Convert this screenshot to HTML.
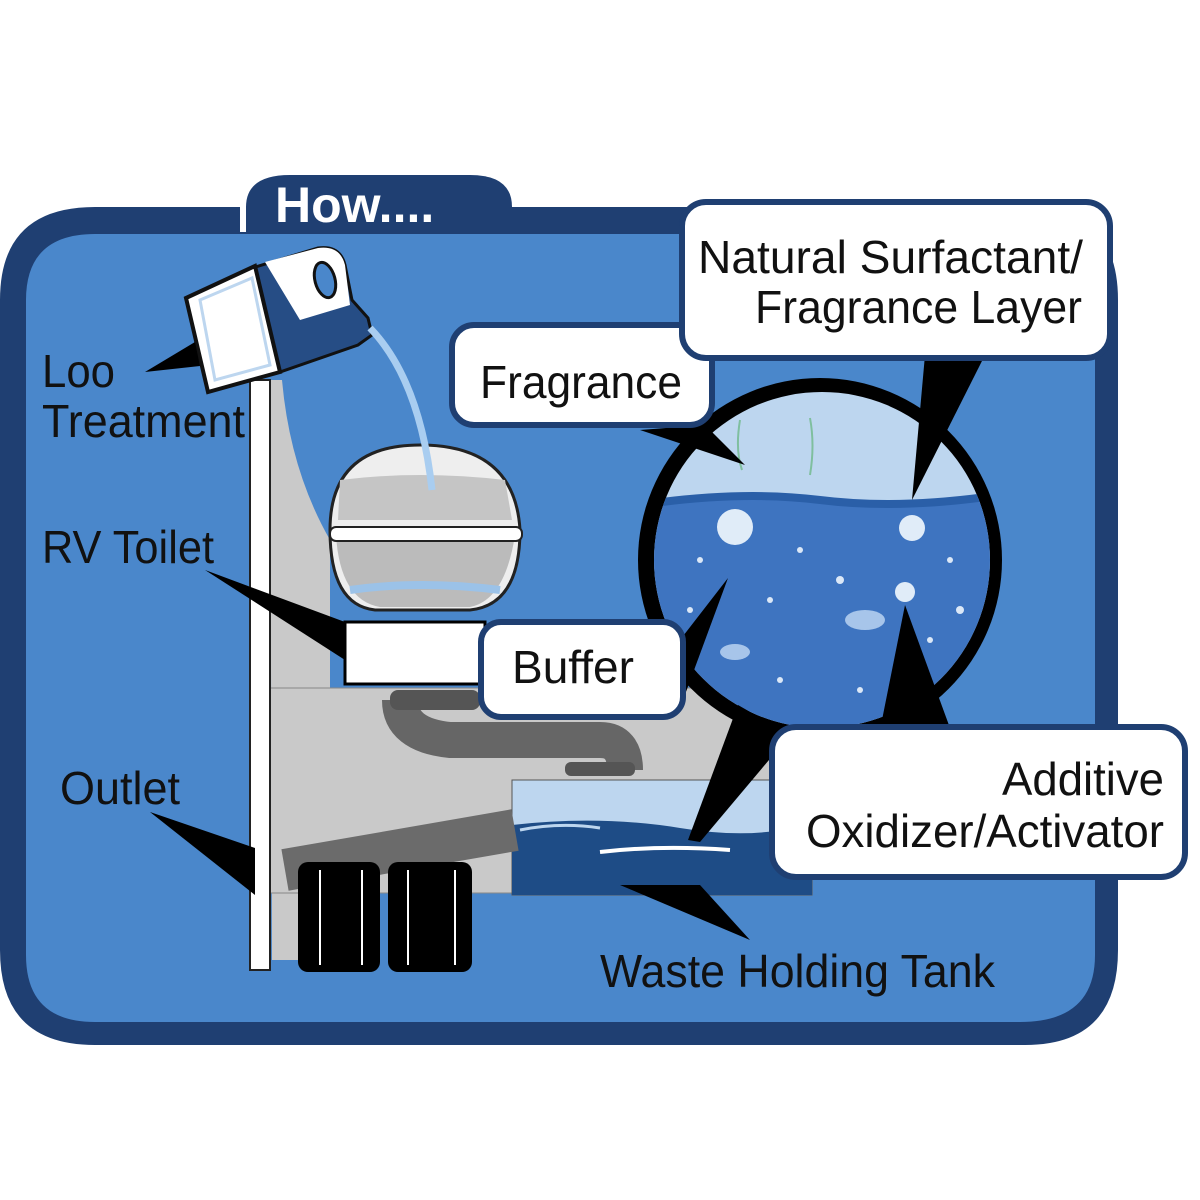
<!DOCTYPE html>
<html><head><meta charset="utf-8"><style>
html,body{margin:0;padding:0;background:#fff}
svg{display:block}
text{font-family:"Liberation Sans Narrow","Liberation Sans",sans-serif}
</style></head><body>
<svg width="1200" height="1200" viewBox="0 0 1200 1200" xmlns="http://www.w3.org/2000/svg">
<rect width="1200" height="1200" fill="#fff"/>
<!-- frame -->
<path d="M0 300 Q0 207 95 207 L240 207 L240 232 L512 232 L512 207 L1025 207 Q1118 207 1118 300 L1118 950 Q1118 1045 1025 1045 L95 1045 Q0 1045 0 950 Z" fill="#1f3f72"/>
<path d="M246 207 Q246 175 290 175 L470 175 Q512 175 512 207 L512 232 L246 232 Z" fill="#1f3f72"/>
<text x="275" y="222" font-weight="bold" font-size="50" fill="#fff" style="font-family:'Liberation Sans',sans-serif">How....</text>
<path d="M95 234 L1020 234 Q1095 234 1095 300 L1095 955 Q1095 1022 1020 1022 L95 1022 Q26 1022 26 955 L26 300 Q26 234 95 234 Z" fill="#4a87cb"/>
<!-- gray wall -->
<path d="M270 380 L272 960 L330 960 L330 540 Q290 470 282 380 Z" fill="#c9c9c9"/>
<rect x="270" y="688" width="535" height="205" fill="#c9c9c9" stroke="#888" stroke-width="1"/>
<rect x="250" y="380" width="20" height="590" fill="#fff" stroke="#222" stroke-width="2"/>
<!-- tank -->
<rect x="512" y="780" width="300" height="115" fill="#bdd6ef" stroke="#555"/>
<path d="M512 825 Q600 815 680 828 T812 822 L812 895 L512 895 Z" fill="#1e4c86"/>
<path d="M600 852 Q660 845 730 850" stroke="#fff" stroke-width="4" fill="none"/>
<path d="M520 830 Q560 822 600 828" stroke="#bdd6ef" stroke-width="3" fill="none"/>
<!-- pipes -->
<path d="M400 700 Q400 735 450 740 L560 740 L600 740 Q625 740 625 770" stroke="#666" stroke-width="36" fill="none"/>
<rect x="390" y="690" width="90" height="20" rx="8" fill="#555"/>
<rect x="565" y="762" width="70" height="14" rx="6" fill="#555"/>
<path d="M285 870 L515 830" stroke="#6b6b6b" stroke-width="42" fill="none"/>
<rect x="298" y="862" width="82" height="110" rx="10" fill="#000"/>
<rect x="388" y="862" width="84" height="110" rx="10" fill="#000"/>
<line x1="320" y1="870" x2="320" y2="965" stroke="#fff" stroke-width="2"/>
<line x1="362" y1="870" x2="362" y2="965" stroke="#fff" stroke-width="2"/>
<line x1="408" y1="870" x2="408" y2="965" stroke="#fff" stroke-width="2"/>
<line x1="455" y1="870" x2="455" y2="965" stroke="#fff" stroke-width="2"/>
<!-- toilet -->
<rect x="345" y="622" width="140" height="62" fill="#fff" stroke="#000" stroke-width="3"/>
<path d="M330 530 Q330 445 420 445 Q515 445 520 530 Q520 605 470 610 L375 610 Q330 605 330 530 Z" fill="#eee" stroke="#222" stroke-width="3"/>
<path d="M336 535 Q420 520 515 535 Q505 600 470 607 L380 607 Q340 600 336 535Z" fill="#bbb"/>
<path d="M340 480 Q420 470 505 480 L512 520 L338 520 Z" fill="#c5c5c5"/>
<rect x="330" y="527" width="192" height="14" rx="6" fill="#fff" stroke="#222" stroke-width="2"/>
<path d="M350 590 Q420 580 500 590" stroke="#9bc2e8" stroke-width="8" fill="none"/>
<!-- bottle -->
<path d="M252 268 L318 248 Q340 245 345 265 L352 300 L368 318 L372 335 L358 345 L280 372 Z" fill="#264d85" stroke="#111" stroke-width="3"/>
<path d="M265 262 L318 248 Q340 245 345 265 L350 305 L300 320 Z" fill="#fff"/>
<ellipse cx="325" cy="280" rx="10" ry="18" transform="rotate(-15 325 280)" fill="#4a87cb" stroke="#111" stroke-width="3"/>
<path d="M186 298 L255 266 L280 372 L208 392 Z" fill="#fff" stroke="#111" stroke-width="4"/>
<path d="M200 300 L252 278 L270 365 L215 380 Z" fill="#fff" stroke="#bdd6ef" stroke-width="3"/>
<path d="M370 328 Q420 380 432 490" stroke="#a9cdf0" stroke-width="7" fill="none"/>
<!-- circle -->
<circle cx="820" cy="560" r="182" fill="#000"/>
<circle cx="822" cy="560" r="168" fill="#bdd6ef"/>
<clipPath id="c"><circle cx="822" cy="560" r="168"/></clipPath>
<g clip-path="url(#c)">
<path d="M640 505 Q740 490 820 500 T1000 495 L1000 760 L640 760 Z" fill="#3e74c0"/>
<path d="M640 505 Q740 490 820 500 T1000 495" stroke="#2a5fa8" stroke-width="8" fill="none"/>
<circle cx="735" cy="527" r="18" fill="#e0ecf8"/><circle cx="912" cy="528" r="13" fill="#e0ecf8"/>
<circle cx="905" cy="592" r="10" fill="#e0ecf8"/><ellipse cx="865" cy="620" rx="20" ry="10" fill="#a7c5ea"/>
<ellipse cx="735" cy="652" rx="15" ry="8" fill="#a7c5ea"/>
<g fill="#dbe8f7"><circle cx="700" cy="560" r="3"/><circle cx="770" cy="600" r="3"/><circle cx="800" cy="550" r="3"/><circle cx="840" cy="580" r="4"/><circle cx="950" cy="560" r="3"/><circle cx="930" cy="640" r="3"/><circle cx="780" cy="680" r="3"/><circle cx="860" cy="690" r="3"/><circle cx="690" cy="610" r="3"/><circle cx="960" cy="610" r="4"/></g>
<path d="M740 420 Q735 450 742 470 M810 418 Q815 445 810 475" stroke="#7fbf9f" stroke-width="2" fill="none"/>
</g>
<!-- pointers -->
<g fill="#000">
<polygon points="145,372 195,342 200,366"/>
<polygon points="205,570 345,622 345,660"/>
<polygon points="150,812 255,848 255,895"/>
<polygon points="620,885 700,885 750,940"/>
<polygon points="640,430 705,425 745,465"/>
<polygon points="925,355 985,355 912,500"/>
<polygon points="680,640 728,578 683,700"/>
<polygon points="880,730 950,728 905,605"/>
<polygon points="738,705 790,735 700,842 688,840"/>
</g>
<!-- callouts -->
<g fill="#fff" stroke="#1f3f72" stroke-width="6">
<rect x="452" y="325" width="260" height="100" rx="22"/>
<rect x="682" y="202" width="428" height="156" rx="24"/>
<rect x="481" y="622" width="202" height="95" rx="20"/>
<rect x="772" y="727" width="413" height="150" rx="24"/>
</g>
<g font-size="46" fill="#111">
<text x="480" y="398" textLength="202" lengthAdjust="spacingAndGlyphs">Fragrance</text>
<text x="698" y="273" textLength="385" lengthAdjust="spacingAndGlyphs">Natural Surfactant/</text>
<text x="755" y="323" textLength="327" lengthAdjust="spacingAndGlyphs">Fragrance Layer</text>
<text x="512" y="683" textLength="122" lengthAdjust="spacingAndGlyphs">Buffer</text>
<text x="1002" y="795" textLength="162" lengthAdjust="spacingAndGlyphs">Additive</text>
<text x="806" y="847" textLength="358" lengthAdjust="spacingAndGlyphs">Oxidizer/Activator</text>
<text x="42" y="387" textLength="73" lengthAdjust="spacingAndGlyphs">Loo</text>
<text x="42" y="437" textLength="203" lengthAdjust="spacingAndGlyphs">Treatment</text>
<text x="42" y="563" textLength="172" lengthAdjust="spacingAndGlyphs">RV Toilet</text>
<text x="60" y="804" textLength="120" lengthAdjust="spacingAndGlyphs">Outlet</text>
<text x="600" y="987" textLength="395" lengthAdjust="spacingAndGlyphs">Waste Holding Tank</text>
</g>
</svg>
</body></html>
